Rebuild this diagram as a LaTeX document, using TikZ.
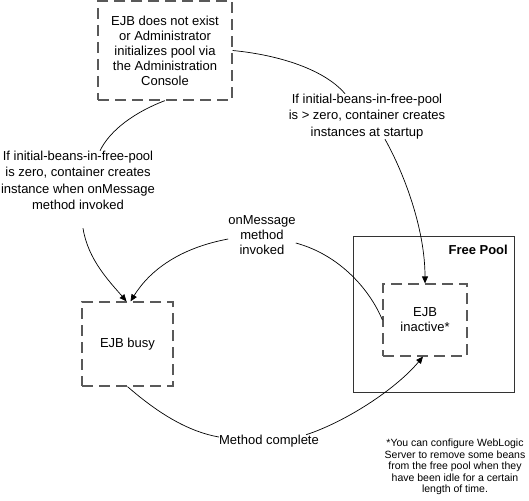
\documentclass[tikz,border=0pt]{standalone}
\usepackage{fontspec}
\setmainfont{Liberation Sans}
\usetikzlibrary{arrows.meta}

\begin{document}
\begin{tikzpicture}[x=1pt,y=-1pt,
    state/.style={rectangle, draw=black!65, line width=1.2pt, dash pattern=on 11pt off 6pt,
      align=center, inner sep=0pt, font=\fontsize{13}{15}\selectfont},
    lbl/.style={align=center, inner sep=0pt, font=\fontsize{13}{16.5}\selectfont},
    link/.style={line width=0.7pt},
    arr/.style={link, -{Triangle[length=7pt,width=6pt]}}]
  \useasboundingbox (0,0) rectangle (529,500);
  \node [rectangle, draw=black!80, line width=0.9pt, minimum width=161pt, minimum height=156pt] (pool) at (433.5,314) {};
  \node [anchor=east, inner sep=0pt, font=\bfseries\fontsize{13}{15}\selectfont] (poolname) at (508,250) {Free Pool};
  \node [state, minimum width=134pt, minimum height=99pt] (src) at (165,50.5)
    {EJB does not exist\\or Administrator\\initializes pool via\\the Administration\\Console};
  \node [state, minimum width=91pt, minimum height=84pt] (busy) at (127.5,344) {EJB busy};
  \node [state, minimum width=84pt, minimum height=72pt] (inact) at (425,320) {EJB\\inactive*};
  \node [lbl] (lblzero) at (78,180.5)
    {If initial-beans-in-free-pool\\is zero, container creates\\instance when onMessage\\method invoked};
  \node [lbl] (lblstart) at (367,116.5)
    {If initial-beans-in-free-pool\\is > zero, container creates\\instances at startup};
  \node [lbl, font=\fontsize{13}{15}\selectfont] (lblmsg) at (262,235) {onMessage\\method\\invoked};
  \node [lbl] (lbldone) at (269,441) {Method complete};
  \node [lbl, font=\fontsize{10.5}{11.5}\selectfont] (note) at (455,467)
    {*You can configure WebLogic\\Server to remove some beans\\from the free pool when they\\have been idle for a certain\\length of time.};
  % creation paths
  \draw [link] (src.south) .. controls (135,112) and (110,130) .. ([xshift=22pt]lblzero.north);
  \draw [arr] ([shift={(5pt,-18pt)}]lblzero.south) .. controls (88,260) and (110,282) .. ([xshift=-1pt]busy.north);
  \draw [link] (src.east) .. controls (280,55) and (325,70) .. ([xshift=-22pt]lblstart.north);
  \draw [arr] ([xshift=18pt]lblstart.south) .. controls (405,175) and (425,230) .. (inact.north);
  % pool to busy and back
  \draw [link] (inact.west) .. controls (370,290) and (340,255) .. ([yshift=-8pt]lblmsg.east);
  \draw [arr] ([yshift=-4pt]lblmsg.west) .. controls (180,248) and (150,270) .. ([xshift=3pt]busy.north);
  \draw [link] (busy.south) .. controls (160,415) and (190,432) .. ([yshift=4pt]lbldone.west);
  \draw [arr] ([xshift=-13pt]lbldone.north east) .. controls (345,422) and (395,390) .. ([xshift=-2pt]inact.south);
\end{tikzpicture}
\end{document}
